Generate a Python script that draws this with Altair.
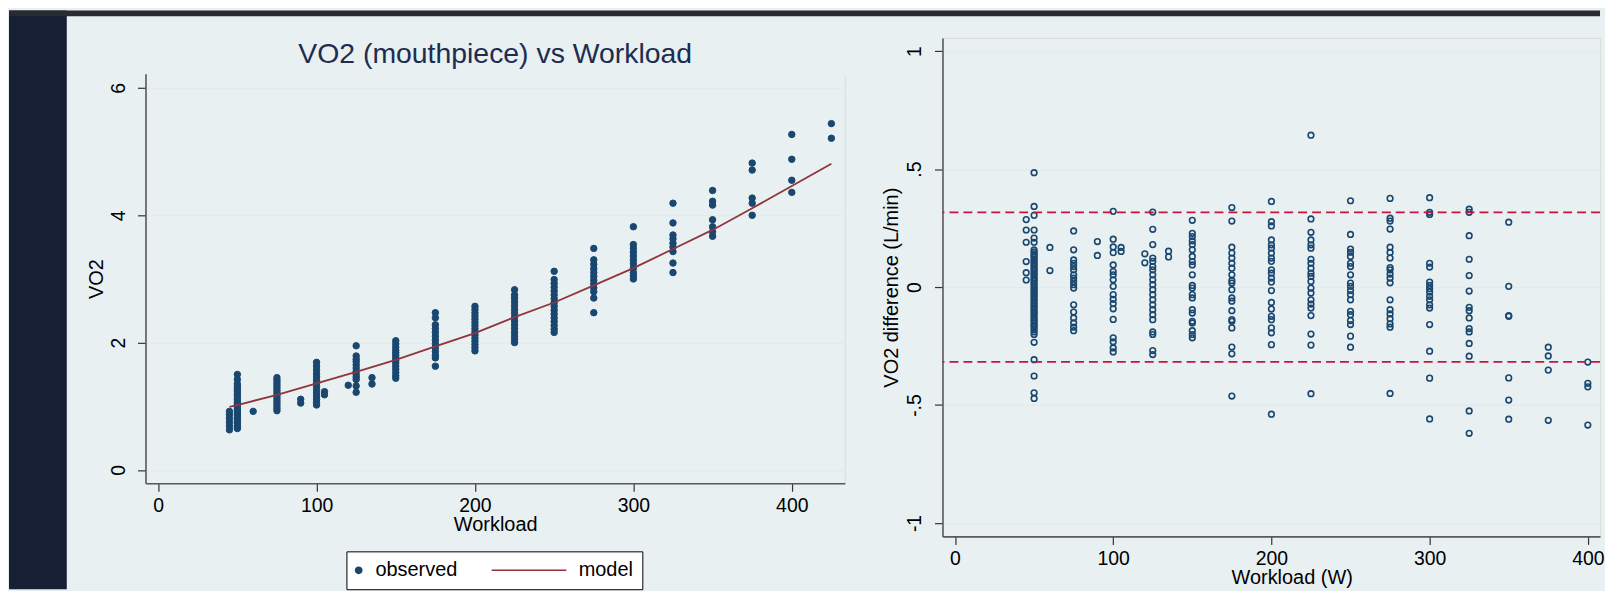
import altair as alt
import pandas as pd

# ---------------- data ----------------
# left panel: observed VO2 (mouthpiece) by workload level
obs_levels = [45, 50, 60, 75, 90, 100, 105, 120, 125, 135, 150, 175, 200, 225,
              250, 275, 300, 325, 350, 375, 400, 425]
obs_vo2 = [
    [0.63, 0.69, 0.75, 0.81, 0.87, 0.92],
    [1.50, 1.42, 1.35, 1.31, 1.27, 1.24, 1.20, 1.17, 1.13, 1.10, 1.06, 1.03, 1.00,
     0.97, 0.94, 0.91, 0.88, 0.85, 0.82, 0.79, 0.76, 0.73, 0.70, 0.67, 0.65],
    [0.92],
    [1.45, 1.41, 1.37, 1.33, 1.29, 1.25, 1.21, 1.17, 1.13, 1.09, 1.05, 1.01, 0.97, 0.93],
    [1.11, 1.05],
    [1.69, 1.63, 1.57, 1.51, 1.46, 1.41, 1.36, 1.31, 1.26, 1.21, 1.16, 1.11, 1.06, 1.02],
    [1.23, 1.18],
    [1.33],
    [1.95, 1.79, 1.74, 1.70, 1.65, 1.60, 1.55, 1.50, 1.46, 1.42, 1.32, 1.22],
    [1.45, 1.35],
    [2.03, 1.98, 1.93, 1.88, 1.84, 1.80, 1.76, 1.72, 1.68, 1.63, 1.58, 1.53, 1.48, 1.44],
    [2.47, 2.39, 2.28, 2.22, 2.16, 2.10, 2.04, 1.98, 1.92, 1.86, 1.80, 1.76, 1.63],
    [2.57, 2.52, 2.47, 2.42, 2.37, 2.32, 2.27, 2.22, 2.17, 2.12, 2.07, 2.02, 1.97, 1.92, 1.87],
    [2.83, 2.75, 2.70, 2.64, 2.58, 2.52, 2.46, 2.40, 2.34, 2.28, 2.22, 2.16, 2.10, 2.05, 2.00],
    [3.12, 2.99, 2.93, 2.87, 2.81, 2.75, 2.69, 2.63, 2.57, 2.51, 2.45, 2.39, 2.33, 2.27, 2.21, 2.16],
    [3.48, 3.30, 3.23, 3.16, 3.10, 3.04, 2.98, 2.92, 2.86, 2.80, 2.70, 2.47],
    [3.82, 3.54, 3.48, 3.42, 3.36, 3.30, 3.24, 3.17, 3.10, 3.05, 3.00],
    [4.19, 3.88, 3.69, 3.63, 3.56, 3.50, 3.43, 3.25, 3.10],
    [4.39, 4.22, 4.16, 3.93, 3.82, 3.74, 3.67],
    [4.82, 4.71, 4.27, 4.19, 4.00],
    [5.27, 4.88, 4.55, 4.36],
    [5.44, 5.21],
]

# left panel: fitted model curve
model_workload = [45, 50, 75, 100, 125, 150, 175, 200, 225, 250, 275, 300, 325, 350, 375, 400, 425]
model_vo2 = [0.99, 1.02, 1.18, 1.36, 1.54, 1.73, 1.94, 2.15, 2.40, 2.63, 2.90, 3.17, 3.47, 3.77, 4.11, 4.46, 4.81]

legend_labels = ["observed", "model"]

# right panel: VO2 difference by workload level
diff_levels = [45, 50, 60, 75, 90, 100, 105, 120, 125, 135, 150, 175, 200, 225,
               250, 275, 300, 325, 350, 375, 400]
diff_vals = [
    [0.286, 0.242, 0.190, 0.108, 0.061, 0.030],
    [0.485, 0.342, 0.304, 0.242, 0.208, 0.190,
     0.158, 0.149, 0.141, 0.133, 0.127, 0.118, 0.111, 0.102, 0.095, 0.087, 0.079, 0.072,
     0.063, 0.055, 0.048, 0.039, 0.031, 0.024, 0.015, 0.008, -0.001, -0.009, -0.017,
     -0.026, -0.033, -0.041, -0.050, -0.057, -0.066, -0.073, -0.082, -0.089, -0.098,
     -0.106, -0.113, -0.122, -0.130, -0.139, -0.146, -0.155, -0.163, -0.171, -0.181,
     -0.190, -0.201, -0.234, -0.308, -0.377, -0.448, -0.472],
    [0.168, 0.070],
    [0.238, 0.158, 0.115, 0.101, 0.087, 0.073, 0.052, 0.038, 0.024, 0.010, -0.004,
     -0.075, -0.106, -0.131, -0.152, -0.170, -0.185],
    [0.193, 0.134],
    [0.321, 0.203, 0.170, 0.146, 0.094, 0.066, 0.052, 0.031, 0.003, -0.032, -0.052,
     -0.070, -0.092, -0.137, -0.215, -0.232, -0.258, -0.275],
    [0.168, 0.151],
    [0.141, 0.103],
    [0.318, 0.245, 0.180, 0.123, 0.109, 0.087, 0.073, 0.052, 0.031, 0.010, -0.011,
     -0.032, -0.054, -0.075, -0.096, -0.117, -0.138, -0.190, -0.201, -0.269, -0.286],
    [0.152, 0.128],
    [0.283, 0.228, 0.214, 0.196, 0.180, 0.158, 0.130, 0.108, 0.094, 0.052, 0.007,
     -0.004, -0.032, -0.046, -0.096, -0.110, -0.145, -0.152, -0.185, -0.201, -0.215],
    [0.337, 0.280, 0.169, 0.144, 0.123, 0.101, 0.080, 0.052, 0.027, 0.017, -0.011,
     -0.046, -0.060, -0.100, -0.138, -0.145, -0.173, -0.254, -0.283, -0.462],
    [0.363, 0.277, 0.259, 0.200, 0.179, 0.165, 0.144, 0.123, 0.109, 0.073, 0.059,
     0.038, 0.021, -0.015, -0.065, -0.093, -0.124, -0.138, -0.173, -0.194, -0.244, -0.539],
    [0.644, 0.289, 0.232, 0.200, 0.179, 0.165, 0.118, 0.101, 0.080, 0.059, 0.045,
     0.024, -0.004, -0.025, -0.054, -0.072, -0.089, -0.121, -0.199, -0.246, -0.452],
    [0.366, 0.223, 0.161, 0.147, 0.130, 0.101, 0.087, 0.052, 0.017, 0.003, -0.015,
     -0.032, -0.054, -0.103, -0.117, -0.142, -0.159, -0.208, -0.255],
    [0.376, 0.292, 0.280, 0.246, 0.169, 0.147, 0.123, 0.083, 0.073, 0.055, 0.038,
     0.018, -0.054, -0.096, -0.114, -0.134, -0.156, -0.170, -0.451],
    [0.379, 0.317, 0.308, 0.101, 0.085, 0.021, 0.007, -0.007, -0.021, -0.039, -0.054,
     -0.075, -0.089, -0.159, -0.272, -0.386, -0.559],
    [0.330, 0.317, 0.218, 0.118, 0.049, -0.017, -0.086, -0.100, -0.131, -0.176, -0.190,
     -0.239, -0.293, -0.525, -0.620],
    [0.275, 0.003, -0.121, -0.124, -0.385, -0.479, -0.560],
    [-0.255, -0.292, -0.352, -0.565],
    [-0.318, -0.408, -0.423, -0.585],
]
limit_values = [0.317, -0.317]

left_xticks = [0, 100, 200, 300, 400]
left_yticks = [0, 2, 4, 6]
right_xticks = [0, 100, 200, 300, 400]
right_yticks = [-1, -0.5, 0, 0.5, 1]
right_ytick_labels = ["-1", "-.5", "0", ".5", "1"]

# ---------------- tables ----------------
obs_df = pd.DataFrame(
    [{"workload": lv, "vo2": v, "series": legend_labels[0]}
     for lv, vals in zip(obs_levels, obs_vo2) for v in vals])
model_df = pd.DataFrame({"workload": model_workload, "vo2": model_vo2})
diff_df = pd.DataFrame(
    [{"workload": lv, "diff": v} for lv, vals in zip(diff_levels, diff_vals) for v in vals])
limits_df = pd.DataFrame({"diff": limit_values})
one_row = pd.DataFrame({"k": [0]})

# ---------------- style ----------------
FONT = "Liberation Sans"
NAVY = "#1a476f"
MAROON = "#90353b"
CRIMSON = "#c8143c"
PANEL = "#e8f0f2"
GRID = "#e2ebee"
DARK = "#161f33"
DARK_TOP = "#2a2a33"
TITLE_C = "#1e2c50"
LINE_SYMBOL = "M-22.3,0H1.4"   # legend line sample for the model curve

axis_common = dict(
    domainColor="#5a5a5a", domainWidth=1.6, tickColor="#333333", tickWidth=1.2,
    tickSize=8, labelFont=FONT, labelFontSize=19.5, labelColor="#000000",
    titleFont=FONT, titleFontSize=20, titleColor="#000000", titleFontWeight="normal",
    gridColor=GRID, gridWidth=1.5)

# ---------------- left panel ----------------
LW, LH = 702, 447
lx = alt.X("workload:Q", scale=alt.Scale(domain=[-8, 433.5], nice=False, zero=False),
           axis=alt.Axis(values=left_xticks, title="Workload", grid=False,
                         labelPadding=5, titlePadding=0, **axis_common))
ly = alt.Y("vo2:Q", scale=alt.Scale(domain=[-0.21, 6.785], nice=False, zero=False),
           axis=alt.Axis(values=left_yticks, format="d", title="VO2", grid=True,
                         labelAngle=270, labelPadding=9, titlePadding=2, titleY=241.6,
                         **axis_common))

legend = alt.Legend(title=None, orient="none", legendX=201.7, legendY=515.3,
                    direction="horizontal", fillColor="white", strokeColor="black",
                    padding=9, labelFont=FONT, labelFontSize=20, labelColor="black",
                    labelOffset=6.8, symbolOffset=-6.7, columnPadding=30,
                    symbolStrokeWidth=1.5, symbolSize=40, cornerRadius=0)

cover = alt.Chart(one_row).mark_rect(color=PANEL).encode(
    x=alt.value(-3), x2=alt.value(LW + 6), y=alt.value(0), y2=alt.value(36.3))

pts = alt.Chart(obs_df).mark_point(filled=True, opacity=1, strokeWidth=1, size=42).encode(
    x=lx, y=ly,
    fill=alt.Fill("series:N", scale=alt.Scale(domain=legend_labels, range=[NAVY, MAROON]), legend=legend),
    stroke=alt.Stroke("series:N", scale=alt.Scale(domain=legend_labels, range=[NAVY, MAROON]), legend=legend),
    shape=alt.Shape("series:N", scale=alt.Scale(domain=legend_labels, range=["circle", LINE_SYMBOL]), legend=legend),
)
line = alt.Chart(model_df).mark_line(color=MAROON, strokeWidth=1.8).encode(x="workload:Q", y="vo2:Q")

left = alt.layer(cover, pts, line).properties(
    width=LW, height=LH,
    title=alt.TitleParams("VO2 (mouthpiece) vs Workload", font=FONT, fontSize=28.5,
                          fontWeight="normal", color=TITLE_C, anchor="middle",
                          frame="group", baseline="alphabetic", offset=0, dy=53.5))

# ---------------- right panel ----------------
RW, RH = 660, 500.3
label_expr = "[" + ",".join("'%s'" % s for s in right_ytick_labels) + "][indexof([" + \
    ",".join(str(v) for v in right_yticks) + "], datum.value)]"
rx = alt.X("workload:Q", scale=alt.Scale(domain=[-7.9, 407.7], nice=False, zero=False),
           axis=alt.Axis(values=right_xticks, title="Workload (W)", grid=False,
                         labelPadding=5, titlePadding=0, titleX=350.5, **axis_common))
ry = alt.Y("diff:Q", scale=alt.Scale(domain=[-1.057, 1.056], nice=False, zero=False),
           axis=alt.Axis(values=right_yticks, labelExpr=label_expr,
                         title="VO2 difference (L/min)", grid=True, labelAngle=270,
                         labelPadding=10, titlePadding=3, **axis_common))

circles = alt.Chart(diff_df).mark_point(filled=False, color=NAVY, size=32, strokeWidth=1.6,
                                        opacity=1).encode(x=rx, y=ry)
rules = alt.Chart(limits_df).mark_rule(color=CRIMSON, strokeWidth=1.8,
                                       strokeDash=[9, 5]).encode(y="diff:Q")
left_strip = alt.Chart(one_row).mark_rect(color=DARK).encode(
    x=alt.value(-937), x2=alt.value(-879), y=alt.value(-27.7), y2=alt.value(553.3))
top_strip = alt.Chart(one_row).mark_rect(color=DARK_TOP).encode(
    x=alt.value(-937), x2=alt.value(RW), y=alt.value(-27.7), y2=alt.value(-21.7))

right = alt.layer(circles, rules, left_strip, top_strip).properties(width=RW, height=RH)

chart = alt.hconcat(left, right, spacing=98, bounds="flush").properties(
    padding=0, background=PANEL
).configure_view(fill="white", stroke=None).configure(font=FONT)

chart.save("out.html", embed_options={"renderer": "svg", "actions": False})
